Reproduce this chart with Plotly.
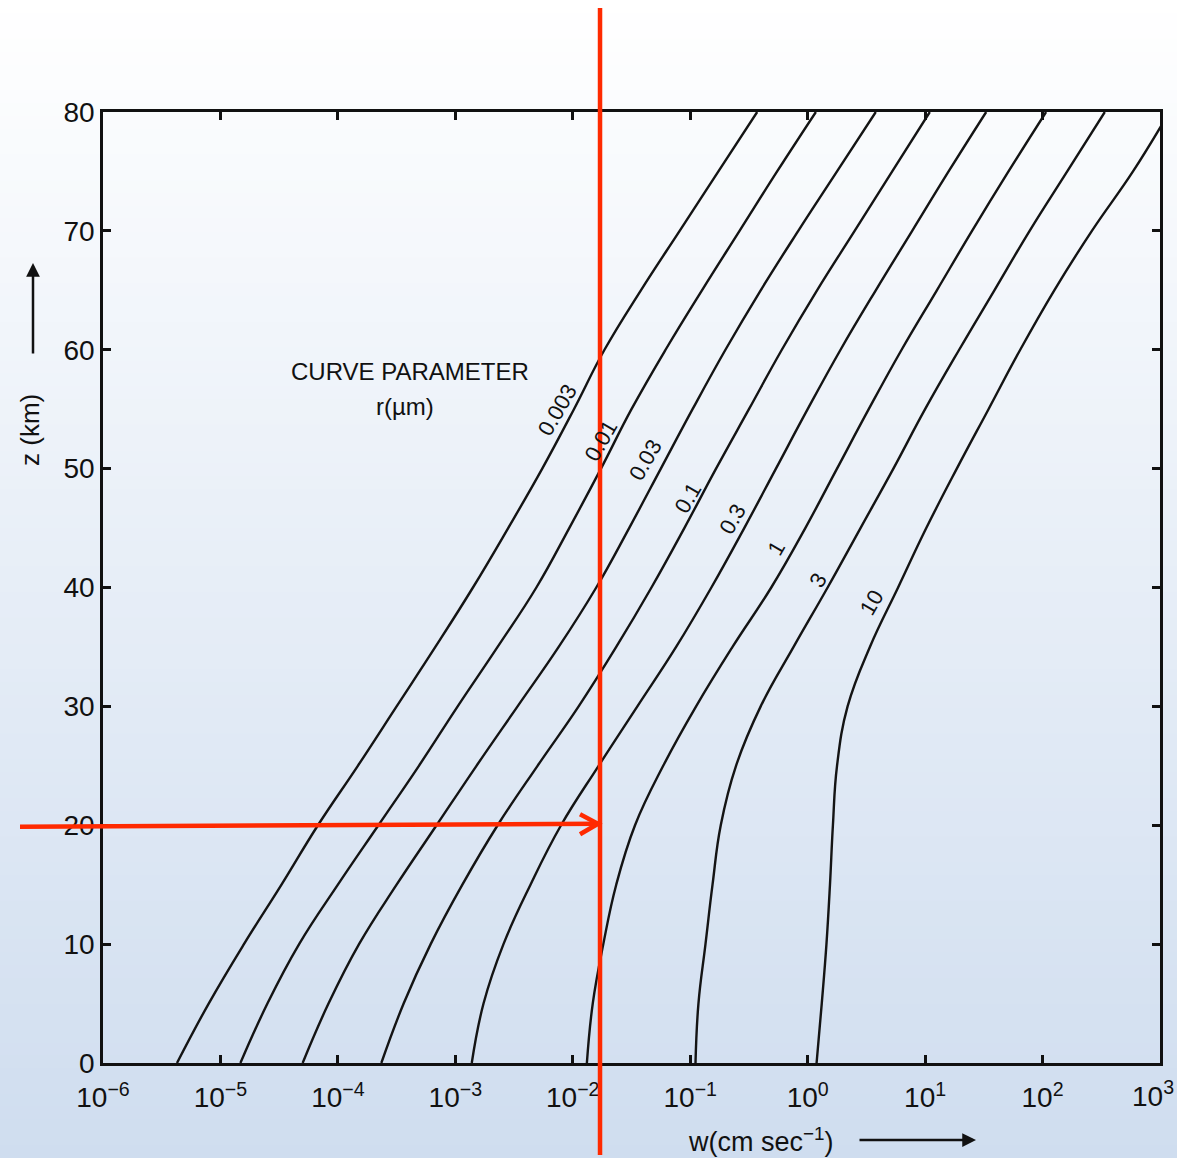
import numpy as np
import plotly.graph_objects as go

W, H = 1177, 1158

# Altitude grid (km) shared by every curve
altitude_km = [0, 5, 10, 15, 20, 25, 30, 35, 40, 45, 50, 55, 60, 65, 70, 75, 80]

# log10 of fall speed w (cm/s) for each particle radius
log_w_r0003 = [-5.37, -5.10, -4.80, -4.48, -4.17, -3.83, -3.50, -3.17, -2.85, -2.55, -2.26, -1.99, -1.73, -1.42, -1.09, -0.76, -0.43]
log_w_r001 = [-4.83, -4.60, -4.33, -4.00, -3.655, -3.31, -2.98, -2.64, -2.31, -2.03, -1.76, -1.50, -1.21, -0.90, -0.58, -0.26, 0.07]
log_w_r003 = [-4.30, -4.08, -3.82, -3.50, -3.16, -2.82, -2.47, -2.12, -1.80, -1.52, -1.25, -0.98, -0.70, -0.40, -0.08, 0.25, 0.58]
log_w_r01 = [-3.63, -3.44, -3.21, -2.94, -2.64, -2.30, -1.95, -1.63, -1.33, -1.05, -0.78, -0.50, -0.22, 0.08, 0.40, 0.72, 1.04]
log_w_r03 = [-2.86, -2.76, -2.59, -2.36, -2.10, -1.78, -1.45, -1.12, -0.82, -0.54, -0.27, 0.00, 0.28, 0.58, 0.89, 1.20, 1.52]
log_w_r1 = [-1.88, -1.83, -1.74, -1.63, -1.47, -1.23, -0.95, -0.64, -0.31, -0.02, 0.25, 0.52, 0.80, 1.10, 1.40, 1.71, 2.03]
log_w_r3 = [-0.955, -0.93, -0.87, -0.81, -0.74, -0.61, -0.40, -0.12, 0.17, 0.45, 0.73, 1.00, 1.29, 1.59, 1.89, 2.21, 2.53]
log_w_r10 = [0.076, 0.12, 0.16, 0.19, 0.215, 0.25, 0.34, 0.53, 0.77, 1.01, 1.27, 1.54, 1.81, 2.10, 2.42, 2.77, 3.08]

radius_labels = ["0.003", "0.01", "0.03", "0.1", "0.3", "1", "3", "10"]
curves = [log_w_r0003, log_w_r001, log_w_r003, log_w_r01, log_w_r03, log_w_r1, log_w_r3, log_w_r10]

# where each radius label is written along its curve
label_log_w = [-2.134, -1.76, -1.385, -1.019, -0.636, -0.27, 0.088, 0.548]
label_z = [54.9, 52.4, 50.7, 47.6, 45.8, 43.3, 40.6, 38.7]

# axis ticks (the last decade label sits flush with the right edge, written separately)
x_tick_exp = [-6, -5, -4, -3, -2, -1, 0, 1, 2, 3]
x_tick_text = ["10<sup>%s</sup>" % (str(k).replace("-", "\u2212")) for k in x_tick_exp]
y_ticks = [0, 10, 20, 30, 40, 50, 60, 70, 80]

# marked reading: altitude 20 km -> speed on the vertical marker
marker_log_w = -1.768
marker_z = 20

X_RANGE = [-6, 3.0001]
Y_RANGE = [0, 80]
DOM_X = [103 / W, 1160 / W]
DOM_Y = [1 - 1063 / H, 1 - 112 / H]


def paper_x(log_w):
    return DOM_X[0] + (log_w - X_RANGE[0]) / (X_RANGE[1] - X_RANGE[0]) * (DOM_X[1] - DOM_X[0])


def paper_y(z):
    return DOM_Y[0] + (z - Y_RANGE[0]) / (Y_RANGE[1] - Y_RANGE[0]) * (DOM_Y[1] - DOM_Y[0])


fig = go.Figure()

for lw in curves:
    fig.add_trace(go.Scatter(
        x=10 ** np.array(lw), y=altitude_km, mode="lines",
        line=dict(color="#141414", width=2.4, shape="spline", smoothing=1.2),
        hoverinfo="skip", showlegend=False,
    ))

shapes = []
# soft vertical background gradient, white to pale blue
n_bands = 90
top_rgb = np.array([255, 255, 255])
bot_rgb = np.array([207, 221, 239])
for i in range(n_bands):
    t = (i + 0.5) / n_bands
    c = top_rgb + (bot_rgb - top_rgb) * t
    shapes.append(dict(
        type="rect", xref="paper", yref="paper", x0=0, x1=1,
        y0=1 - (i + 1) / n_bands - 0.002, y1=1 - i / n_bands,
        fillcolor="rgb(%d,%d,%d)" % tuple(c.round()), line=dict(width=0), layer="below",
    ))

RED = "#ff2a00"
mx = paper_x(marker_log_w)
my = paper_y(marker_z)
# vertical marker line
shapes.append(dict(type="line", xref="paper", yref="paper", x0=mx, x1=mx,
                   y0=1 - 1155 / H, y1=1 - 8 / H, line=dict(color=RED, width=4.5)))
# horizontal arrow into the marker line
tip_x = mx - 2 / W
shapes.append(dict(type="line", xref="paper", yref="paper", x0=20 / W, x1=tip_x,
                   y0=my - 1.5 / H, y1=my + 1.5 / H, line=dict(color=RED, width=4.5)))
shapes.append(dict(type="path", xref="paper", yref="paper",
                   path="M %f %f L %f %f L %f %f" % (tip_x - 18 / W, my + 11 / H, tip_x, my + 1.5 / H,
                                                   tip_x - 18 / W, my - 9 / H),
                   line=dict(color=RED, width=4.5)))

annotations = []
FONT = "Liberation Sans"
INK = "#111111"
for txt, lx, lz in zip(radius_labels, label_log_w, label_z):
    annotations.append(dict(x=lx, y=lz, xref="x", yref="y", text=txt, showarrow=False,
                            xanchor="center", yanchor="middle",
                            textangle=-60, font=dict(family=FONT, size=22, color=INK)))


def note(px, py, text, size, angle=0, xanchor="center"):
    return dict(x=px / W, y=1 - py / H, xref="paper", yref="paper", text=text,
                showarrow=False, xanchor=xanchor, yanchor="middle", textangle=angle,
                font=dict(family=FONT, size=size, color=INK))


annotations += [
    note(410, 371, "CURVE PARAMETER", 24),
    note(405, 406, "r(\u00b5m)", 24),
    note(30, 430, "z (km)", 26, angle=-90),
    note(761, 1140, "w(cm sec<sup>\u22121</sup>)", 27),
    note(1176, 1094, x_tick_text[-1], 28, xanchor="right"),
    dict(x=33 / W, y=1 - 263 / H, xref="paper", yref="paper", text="", showarrow=True,
         ax=0, ay=92, arrowhead=2, arrowsize=1.1, arrowwidth=2.5, arrowcolor=INK, standoff=0),
    dict(x=976 / W, y=1 - 1140 / H, xref="paper", yref="paper", text="", showarrow=True,
         ax=-118, ay=0, arrowhead=2, arrowsize=1.1, arrowwidth=2.5, arrowcolor=INK, standoff=0),
]

axis_style = dict(
    ticks="inside", ticklen=8, tickwidth=2.5, tickcolor=INK,
    showline=True, linewidth=2.5, linecolor=INK, mirror="ticks",
    showgrid=False, zeroline=False, automargin=False,
    tickfont=dict(family=FONT, size=28, color=INK),
)

fig.update_layout(
    width=W, height=H,
    margin=dict(l=0, r=0, t=0, b=0, pad=0),
    paper_bgcolor="white", plot_bgcolor="rgba(0,0,0,0)",
    showlegend=False,
    xaxis=dict(type="log", range=X_RANGE, domain=DOM_X, ticklabelstandoff=8,
               tickvals=[10.0 ** k for k in x_tick_exp],
               ticktext=x_tick_text[:-1] + [""], **axis_style),
    yaxis=dict(range=Y_RANGE, domain=DOM_Y, tickvals=y_ticks, **axis_style),
    shapes=shapes,
    annotations=annotations,
)

fig.write_html("out.html")
